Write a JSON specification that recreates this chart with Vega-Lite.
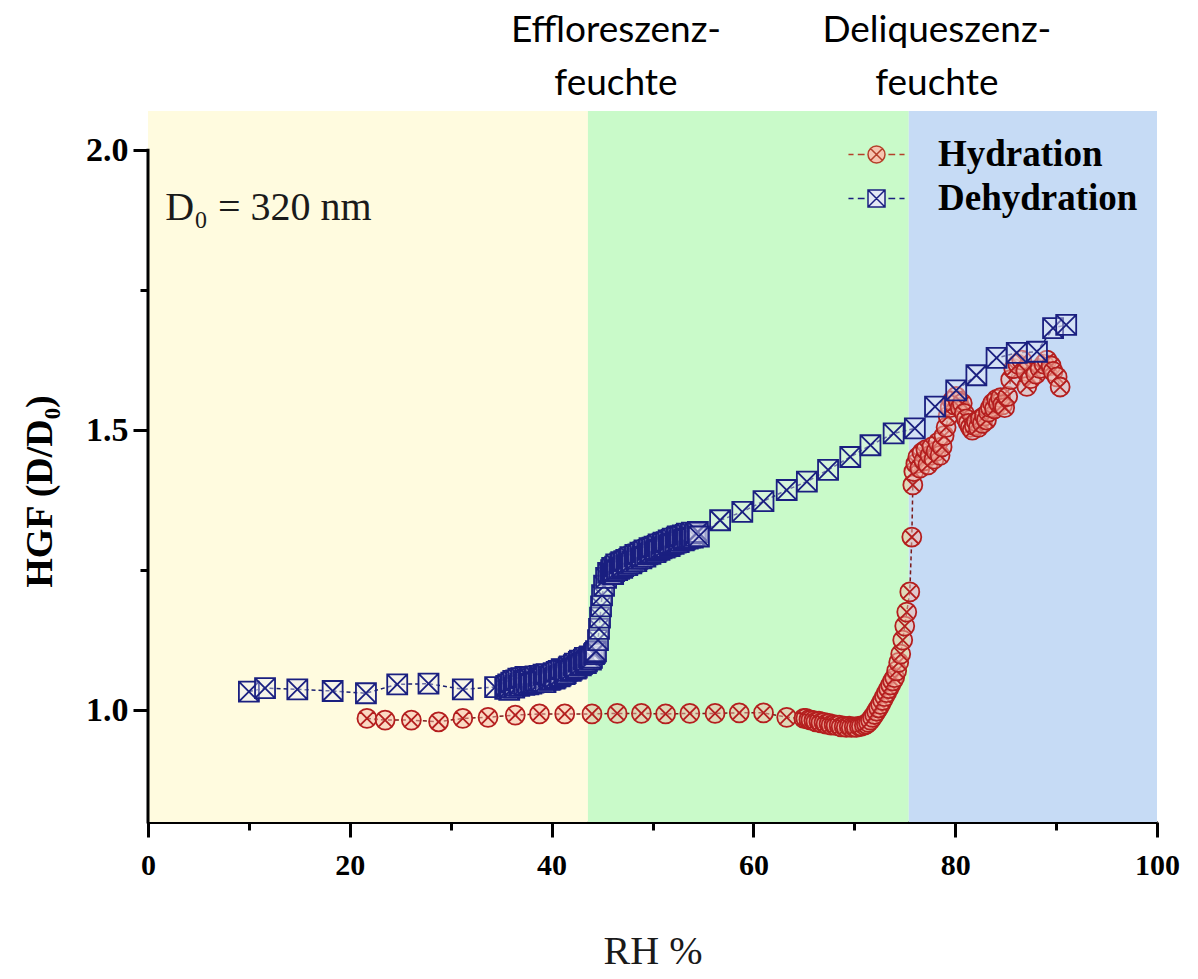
{
  "$schema": "https://vega.github.io/schema/vega-lite/v6.json",
  "width": 1009,
  "height": 711,
  "autosize": {"type": "none"},
  "padding": {"left": 148, "top": 111, "right": 41, "bottom": 157},
  "background": "white",
  "config": {
    "view": {"stroke": null},
    "font": "Liberation Serif",
    "axis": {"grid": false},
    "legend": {
      "orient": "none",
      "legendX": 710,
      "legendY": 25,
      "padding": 0,
      "labelFont": "Liberation Serif",
      "labelFontWeight": "bold",
      "labelFontSize": 37,
      "labelColor": "black",
      "labelOffset": 43,
      "labelLimit": 400,
      "symbolSize": 289,
      "symbolStrokeWidth": 1.5,
      "rowPadding": 6
    }
  },
  "resolve": {"axis": {"x": "independent", "y": "independent"}},
  "datasets": {
    "zones": [
      {"zone": "solid", "from": 0, "to": 43.6, "label": null},
      {"zone": "efflorescence", "from": 43.6, "to": 75.4, "label": ["Effloreszenz-", "feuchte"]},
      {"zone": "deliquescence", "from": 75.4, "to": 100, "label": ["Deliqueszenz-", "feuchte"]}
    ],
    "hgf": [
      {"series": "Hydration", "rh": 21.7, "hgf": 0.985},
      {"series": "Hydration", "rh": 23.5, "hgf": 0.982},
      {"series": "Hydration", "rh": 26.1, "hgf": 0.982},
      {"series": "Hydration", "rh": 28.8, "hgf": 0.979},
      {"series": "Hydration", "rh": 31.2, "hgf": 0.985},
      {"series": "Hydration", "rh": 33.7, "hgf": 0.987},
      {"series": "Hydration", "rh": 36.4, "hgf": 0.991},
      {"series": "Hydration", "rh": 38.8, "hgf": 0.993},
      {"series": "Hydration", "rh": 41.3, "hgf": 0.993},
      {"series": "Hydration", "rh": 44.0, "hgf": 0.993},
      {"series": "Hydration", "rh": 46.5, "hgf": 0.994},
      {"series": "Hydration", "rh": 48.9, "hgf": 0.994},
      {"series": "Hydration", "rh": 51.3, "hgf": 0.993},
      {"series": "Hydration", "rh": 53.7, "hgf": 0.994},
      {"series": "Hydration", "rh": 56.2, "hgf": 0.994},
      {"series": "Hydration", "rh": 58.6, "hgf": 0.995},
      {"series": "Hydration", "rh": 61.0, "hgf": 0.995},
      {"series": "Hydration", "rh": 63.3, "hgf": 0.987},
      {"series": "Hydration", "rh": 65.0, "hgf": 0.985},
      {"series": "Hydration", "rh": 65.2, "hgf": 0.985},
      {"series": "Hydration", "rh": 65.5, "hgf": 0.983},
      {"series": "Hydration", "rh": 65.7, "hgf": 0.982},
      {"series": "Hydration", "rh": 66.0, "hgf": 0.981},
      {"series": "Hydration", "rh": 66.2, "hgf": 0.979},
      {"series": "Hydration", "rh": 66.5, "hgf": 0.980},
      {"series": "Hydration", "rh": 66.7, "hgf": 0.977},
      {"series": "Hydration", "rh": 67.0, "hgf": 0.978},
      {"series": "Hydration", "rh": 67.2, "hgf": 0.975},
      {"series": "Hydration", "rh": 67.5, "hgf": 0.976},
      {"series": "Hydration", "rh": 67.7, "hgf": 0.973},
      {"series": "Hydration", "rh": 68.0, "hgf": 0.974},
      {"series": "Hydration", "rh": 68.2, "hgf": 0.972},
      {"series": "Hydration", "rh": 68.5, "hgf": 0.973},
      {"series": "Hydration", "rh": 68.7, "hgf": 0.970},
      {"series": "Hydration", "rh": 69.0, "hgf": 0.971},
      {"series": "Hydration", "rh": 69.2, "hgf": 0.969},
      {"series": "Hydration", "rh": 69.5, "hgf": 0.971},
      {"series": "Hydration", "rh": 69.7, "hgf": 0.969},
      {"series": "Hydration", "rh": 70.0, "hgf": 0.970},
      {"series": "Hydration", "rh": 70.2, "hgf": 0.969},
      {"series": "Hydration", "rh": 70.5, "hgf": 0.971},
      {"series": "Hydration", "rh": 70.7, "hgf": 0.971},
      {"series": "Hydration", "rh": 71.0, "hgf": 0.973},
      {"series": "Hydration", "rh": 71.2, "hgf": 0.975},
      {"series": "Hydration", "rh": 71.4, "hgf": 0.978},
      {"series": "Hydration", "rh": 71.6, "hgf": 0.982},
      {"series": "Hydration", "rh": 71.8, "hgf": 0.987},
      {"series": "Hydration", "rh": 72.0, "hgf": 0.992},
      {"series": "Hydration", "rh": 72.2, "hgf": 0.998},
      {"series": "Hydration", "rh": 72.4, "hgf": 1.004},
      {"series": "Hydration", "rh": 72.6, "hgf": 1.010},
      {"series": "Hydration", "rh": 72.8, "hgf": 1.017},
      {"series": "Hydration", "rh": 73.0, "hgf": 1.024},
      {"series": "Hydration", "rh": 73.2, "hgf": 1.031},
      {"series": "Hydration", "rh": 73.4, "hgf": 1.038},
      {"series": "Hydration", "rh": 73.6, "hgf": 1.045},
      {"series": "Hydration", "rh": 73.8, "hgf": 1.052},
      {"series": "Hydration", "rh": 74.0, "hgf": 1.058},
      {"series": "Hydration", "rh": 74.2, "hgf": 1.070},
      {"series": "Hydration", "rh": 74.4, "hgf": 1.085},
      {"series": "Hydration", "rh": 74.6, "hgf": 1.100},
      {"series": "Hydration", "rh": 74.8, "hgf": 1.125},
      {"series": "Hydration", "rh": 75.0, "hgf": 1.150},
      {"series": "Hydration", "rh": 75.2, "hgf": 1.175},
      {"series": "Hydration", "rh": 75.5, "hgf": 1.211},
      {"series": "Hydration", "rh": 75.7, "hgf": 1.309},
      {"series": "Hydration", "rh": 75.8, "hgf": 1.402},
      {"series": "Hydration", "rh": 75.9, "hgf": 1.426},
      {"series": "Hydration", "rh": 76.1, "hgf": 1.440},
      {"series": "Hydration", "rh": 76.3, "hgf": 1.452},
      {"series": "Hydration", "rh": 76.5, "hgf": 1.432},
      {"series": "Hydration", "rh": 76.7, "hgf": 1.460},
      {"series": "Hydration", "rh": 76.9, "hgf": 1.445},
      {"series": "Hydration", "rh": 77.1, "hgf": 1.465},
      {"series": "Hydration", "rh": 77.3, "hgf": 1.438},
      {"series": "Hydration", "rh": 77.5, "hgf": 1.455},
      {"series": "Hydration", "rh": 77.7, "hgf": 1.470},
      {"series": "Hydration", "rh": 77.9, "hgf": 1.448},
      {"series": "Hydration", "rh": 78.1, "hgf": 1.462},
      {"series": "Hydration", "rh": 78.3, "hgf": 1.478},
      {"series": "Hydration", "rh": 78.5, "hgf": 1.455},
      {"series": "Hydration", "rh": 78.7, "hgf": 1.470},
      {"series": "Hydration", "rh": 78.9, "hgf": 1.490},
      {"series": "Hydration", "rh": 79.1, "hgf": 1.505},
      {"series": "Hydration", "rh": 79.3, "hgf": 1.525},
      {"series": "Hydration", "rh": 79.5, "hgf": 1.540},
      {"series": "Hydration", "rh": 79.7, "hgf": 1.552},
      {"series": "Hydration", "rh": 79.9, "hgf": 1.545},
      {"series": "Hydration", "rh": 80.1, "hgf": 1.560},
      {"series": "Hydration", "rh": 80.3, "hgf": 1.552},
      {"series": "Hydration", "rh": 80.5, "hgf": 1.540},
      {"series": "Hydration", "rh": 80.7, "hgf": 1.548},
      {"series": "Hydration", "rh": 80.9, "hgf": 1.530},
      {"series": "Hydration", "rh": 81.1, "hgf": 1.520},
      {"series": "Hydration", "rh": 81.3, "hgf": 1.512},
      {"series": "Hydration", "rh": 81.5, "hgf": 1.505},
      {"series": "Hydration", "rh": 81.7, "hgf": 1.500},
      {"series": "Hydration", "rh": 81.9, "hgf": 1.508},
      {"series": "Hydration", "rh": 82.1, "hgf": 1.515},
      {"series": "Hydration", "rh": 82.3, "hgf": 1.505},
      {"series": "Hydration", "rh": 82.5, "hgf": 1.520},
      {"series": "Hydration", "rh": 82.7, "hgf": 1.512},
      {"series": "Hydration", "rh": 82.9, "hgf": 1.525},
      {"series": "Hydration", "rh": 83.1, "hgf": 1.518},
      {"series": "Hydration", "rh": 83.3, "hgf": 1.532},
      {"series": "Hydration", "rh": 83.5, "hgf": 1.540},
      {"series": "Hydration", "rh": 83.7, "hgf": 1.548},
      {"series": "Hydration", "rh": 83.9, "hgf": 1.538},
      {"series": "Hydration", "rh": 84.1, "hgf": 1.555},
      {"series": "Hydration", "rh": 84.3, "hgf": 1.548},
      {"series": "Hydration", "rh": 84.5, "hgf": 1.558},
      {"series": "Hydration", "rh": 84.7, "hgf": 1.545},
      {"series": "Hydration", "rh": 84.9, "hgf": 1.540},
      {"series": "Hydration", "rh": 85.2, "hgf": 1.560},
      {"series": "Hydration", "rh": 85.5, "hgf": 1.590},
      {"series": "Hydration", "rh": 85.8, "hgf": 1.610},
      {"series": "Hydration", "rh": 86.2, "hgf": 1.618},
      {"series": "Hydration", "rh": 86.6, "hgf": 1.625},
      {"series": "Hydration", "rh": 87.0, "hgf": 1.605},
      {"series": "Hydration", "rh": 87.1, "hgf": 1.578},
      {"series": "Hydration", "rh": 87.5, "hgf": 1.592},
      {"series": "Hydration", "rh": 88.0, "hgf": 1.600},
      {"series": "Hydration", "rh": 88.4, "hgf": 1.610},
      {"series": "Hydration", "rh": 88.8, "hgf": 1.618},
      {"series": "Hydration", "rh": 89.1, "hgf": 1.625},
      {"series": "Hydration", "rh": 89.5, "hgf": 1.615},
      {"series": "Hydration", "rh": 89.7, "hgf": 1.605},
      {"series": "Hydration", "rh": 90.1, "hgf": 1.595},
      {"series": "Hydration", "rh": 90.4, "hgf": 1.577},
      {"series": "Dehydration", "rh": 10.0, "hgf": 1.033},
      {"series": "Dehydration", "rh": 11.6, "hgf": 1.039},
      {"series": "Dehydration", "rh": 14.8, "hgf": 1.037},
      {"series": "Dehydration", "rh": 18.3, "hgf": 1.034},
      {"series": "Dehydration", "rh": 21.6, "hgf": 1.030},
      {"series": "Dehydration", "rh": 24.7, "hgf": 1.046},
      {"series": "Dehydration", "rh": 27.8, "hgf": 1.047},
      {"series": "Dehydration", "rh": 31.2, "hgf": 1.037},
      {"series": "Dehydration", "rh": 34.4, "hgf": 1.041},
      {"series": "Dehydration", "rh": 35.4, "hgf": 1.038},
      {"series": "Dehydration", "rh": 35.5, "hgf": 1.043},
      {"series": "Dehydration", "rh": 35.7, "hgf": 1.046},
      {"series": "Dehydration", "rh": 35.8, "hgf": 1.036},
      {"series": "Dehydration", "rh": 35.9, "hgf": 1.041},
      {"series": "Dehydration", "rh": 36.0, "hgf": 1.049},
      {"series": "Dehydration", "rh": 36.2, "hgf": 1.052},
      {"series": "Dehydration", "rh": 36.3, "hgf": 1.040},
      {"series": "Dehydration", "rh": 36.4, "hgf": 1.044},
      {"series": "Dehydration", "rh": 36.5, "hgf": 1.053},
      {"series": "Dehydration", "rh": 36.7, "hgf": 1.056},
      {"series": "Dehydration", "rh": 36.8, "hgf": 1.043},
      {"series": "Dehydration", "rh": 36.9, "hgf": 1.047},
      {"series": "Dehydration", "rh": 37.0, "hgf": 1.057},
      {"series": "Dehydration", "rh": 37.2, "hgf": 1.051},
      {"series": "Dehydration", "rh": 37.3, "hgf": 1.045},
      {"series": "Dehydration", "rh": 37.4, "hgf": 1.059},
      {"series": "Dehydration", "rh": 37.5, "hgf": 1.052},
      {"series": "Dehydration", "rh": 37.7, "hgf": 1.046},
      {"series": "Dehydration", "rh": 37.8, "hgf": 1.058},
      {"series": "Dehydration", "rh": 37.9, "hgf": 1.055},
      {"series": "Dehydration", "rh": 38.0, "hgf": 1.047},
      {"series": "Dehydration", "rh": 38.2, "hgf": 1.049},
      {"series": "Dehydration", "rh": 38.3, "hgf": 1.055},
      {"series": "Dehydration", "rh": 38.4, "hgf": 1.060},
      {"series": "Dehydration", "rh": 38.5, "hgf": 1.050},
      {"series": "Dehydration", "rh": 38.7, "hgf": 1.052},
      {"series": "Dehydration", "rh": 38.8, "hgf": 1.061},
      {"series": "Dehydration", "rh": 38.9, "hgf": 1.057},
      {"series": "Dehydration", "rh": 39.0, "hgf": 1.052},
      {"series": "Dehydration", "rh": 39.2, "hgf": 1.063},
      {"series": "Dehydration", "rh": 39.3, "hgf": 1.058},
      {"series": "Dehydration", "rh": 39.4, "hgf": 1.050},
      {"series": "Dehydration", "rh": 39.5, "hgf": 1.064},
      {"series": "Dehydration", "rh": 39.7, "hgf": 1.060},
      {"series": "Dehydration", "rh": 39.8, "hgf": 1.054},
      {"series": "Dehydration", "rh": 39.9, "hgf": 1.055},
      {"series": "Dehydration", "rh": 40.0, "hgf": 1.061},
      {"series": "Dehydration", "rh": 40.2, "hgf": 1.066},
      {"series": "Dehydration", "rh": 40.3, "hgf": 1.056},
      {"series": "Dehydration", "rh": 40.4, "hgf": 1.058},
      {"series": "Dehydration", "rh": 40.5, "hgf": 1.068},
      {"series": "Dehydration", "rh": 40.7, "hgf": 1.070},
      {"series": "Dehydration", "rh": 40.8, "hgf": 1.060},
      {"series": "Dehydration", "rh": 40.9, "hgf": 1.062},
      {"series": "Dehydration", "rh": 41.0, "hgf": 1.073},
      {"series": "Dehydration", "rh": 41.2, "hgf": 1.072},
      {"series": "Dehydration", "rh": 41.3, "hgf": 1.064},
      {"series": "Dehydration", "rh": 41.4, "hgf": 1.066},
      {"series": "Dehydration", "rh": 41.5, "hgf": 1.070},
      {"series": "Dehydration", "rh": 41.7, "hgf": 1.076},
      {"series": "Dehydration", "rh": 41.8, "hgf": 1.078},
      {"series": "Dehydration", "rh": 41.9, "hgf": 1.070},
      {"series": "Dehydration", "rh": 42.0, "hgf": 1.072},
      {"series": "Dehydration", "rh": 42.2, "hgf": 1.080},
      {"series": "Dehydration", "rh": 42.3, "hgf": 1.083},
      {"series": "Dehydration", "rh": 42.4, "hgf": 1.074},
      {"series": "Dehydration", "rh": 42.5, "hgf": 1.076},
      {"series": "Dehydration", "rh": 42.7, "hgf": 1.086},
      {"series": "Dehydration", "rh": 42.8, "hgf": 1.088},
      {"series": "Dehydration", "rh": 42.9, "hgf": 1.080},
      {"series": "Dehydration", "rh": 43.0, "hgf": 1.082},
      {"series": "Dehydration", "rh": 43.2, "hgf": 1.090},
      {"series": "Dehydration", "rh": 43.3, "hgf": 1.093},
      {"series": "Dehydration", "rh": 43.4, "hgf": 1.084},
      {"series": "Dehydration", "rh": 43.5, "hgf": 1.087},
      {"series": "Dehydration", "rh": 43.7, "hgf": 1.094},
      {"series": "Dehydration", "rh": 43.8, "hgf": 1.096},
      {"series": "Dehydration", "rh": 43.9, "hgf": 1.090},
      {"series": "Dehydration", "rh": 44.0, "hgf": 1.093},
      {"series": "Dehydration", "rh": 44.2, "hgf": 1.100},
      {"series": "Dehydration", "rh": 44.3, "hgf": 1.102},
      {"series": "Dehydration", "rh": 44.4, "hgf": 1.105},
      {"series": "Dehydration", "rh": 44.6, "hgf": 1.125},
      {"series": "Dehydration", "rh": 44.7, "hgf": 1.145},
      {"series": "Dehydration", "rh": 44.8, "hgf": 1.165},
      {"series": "Dehydration", "rh": 44.9, "hgf": 1.185},
      {"series": "Dehydration", "rh": 45.0, "hgf": 1.205},
      {"series": "Dehydration", "rh": 45.2, "hgf": 1.222},
      {"series": "Dehydration", "rh": 45.4, "hgf": 1.236},
      {"series": "Dehydration", "rh": 45.6, "hgf": 1.245},
      {"series": "Dehydration", "rh": 45.8, "hgf": 1.244},
      {"series": "Dehydration", "rh": 45.9, "hgf": 1.250},
      {"series": "Dehydration", "rh": 46.0, "hgf": 1.254},
      {"series": "Dehydration", "rh": 46.1, "hgf": 1.243},
      {"series": "Dehydration", "rh": 46.2, "hgf": 1.248},
      {"series": "Dehydration", "rh": 46.3, "hgf": 1.256},
      {"series": "Dehydration", "rh": 46.4, "hgf": 1.260},
      {"series": "Dehydration", "rh": 46.5, "hgf": 1.250},
      {"series": "Dehydration", "rh": 46.7, "hgf": 1.252},
      {"series": "Dehydration", "rh": 46.8, "hgf": 1.262},
      {"series": "Dehydration", "rh": 46.9, "hgf": 1.264},
      {"series": "Dehydration", "rh": 47.0, "hgf": 1.254},
      {"series": "Dehydration", "rh": 47.1, "hgf": 1.257},
      {"series": "Dehydration", "rh": 47.2, "hgf": 1.266},
      {"series": "Dehydration", "rh": 47.4, "hgf": 1.268},
      {"series": "Dehydration", "rh": 47.5, "hgf": 1.259},
      {"series": "Dehydration", "rh": 47.6, "hgf": 1.262},
      {"series": "Dehydration", "rh": 47.7, "hgf": 1.270},
      {"series": "Dehydration", "rh": 47.8, "hgf": 1.273},
      {"series": "Dehydration", "rh": 47.9, "hgf": 1.262},
      {"series": "Dehydration", "rh": 48.0, "hgf": 1.265},
      {"series": "Dehydration", "rh": 48.2, "hgf": 1.274},
      {"series": "Dehydration", "rh": 48.3, "hgf": 1.277},
      {"series": "Dehydration", "rh": 48.4, "hgf": 1.266},
      {"series": "Dehydration", "rh": 48.5, "hgf": 1.270},
      {"series": "Dehydration", "rh": 48.6, "hgf": 1.278},
      {"series": "Dehydration", "rh": 48.8, "hgf": 1.281},
      {"series": "Dehydration", "rh": 48.9, "hgf": 1.271},
      {"series": "Dehydration", "rh": 49.0, "hgf": 1.274},
      {"series": "Dehydration", "rh": 49.1, "hgf": 1.282},
      {"series": "Dehydration", "rh": 49.2, "hgf": 1.285},
      {"series": "Dehydration", "rh": 49.3, "hgf": 1.274},
      {"series": "Dehydration", "rh": 49.5, "hgf": 1.278},
      {"series": "Dehydration", "rh": 49.6, "hgf": 1.286},
      {"series": "Dehydration", "rh": 49.7, "hgf": 1.289},
      {"series": "Dehydration", "rh": 49.8, "hgf": 1.279},
      {"series": "Dehydration", "rh": 49.9, "hgf": 1.282},
      {"series": "Dehydration", "rh": 50.0, "hgf": 1.290},
      {"series": "Dehydration", "rh": 50.2, "hgf": 1.292},
      {"series": "Dehydration", "rh": 50.3, "hgf": 1.282},
      {"series": "Dehydration", "rh": 50.4, "hgf": 1.285},
      {"series": "Dehydration", "rh": 50.5, "hgf": 1.293},
      {"series": "Dehydration", "rh": 50.6, "hgf": 1.296},
      {"series": "Dehydration", "rh": 50.7, "hgf": 1.286},
      {"series": "Dehydration", "rh": 50.9, "hgf": 1.289},
      {"series": "Dehydration", "rh": 51.0, "hgf": 1.297},
      {"series": "Dehydration", "rh": 51.1, "hgf": 1.299},
      {"series": "Dehydration", "rh": 51.2, "hgf": 1.290},
      {"series": "Dehydration", "rh": 51.3, "hgf": 1.292},
      {"series": "Dehydration", "rh": 51.4, "hgf": 1.300},
      {"series": "Dehydration", "rh": 51.6, "hgf": 1.303},
      {"series": "Dehydration", "rh": 51.7, "hgf": 1.293},
      {"series": "Dehydration", "rh": 51.8, "hgf": 1.296},
      {"series": "Dehydration", "rh": 51.9, "hgf": 1.304},
      {"series": "Dehydration", "rh": 52.0, "hgf": 1.306},
      {"series": "Dehydration", "rh": 52.1, "hgf": 1.297},
      {"series": "Dehydration", "rh": 52.3, "hgf": 1.299},
      {"series": "Dehydration", "rh": 52.4, "hgf": 1.308},
      {"series": "Dehydration", "rh": 52.5, "hgf": 1.310},
      {"series": "Dehydration", "rh": 52.6, "hgf": 1.300},
      {"series": "Dehydration", "rh": 52.7, "hgf": 1.303},
      {"series": "Dehydration", "rh": 52.8, "hgf": 1.310},
      {"series": "Dehydration", "rh": 53.0, "hgf": 1.312},
      {"series": "Dehydration", "rh": 53.1, "hgf": 1.303},
      {"series": "Dehydration", "rh": 53.2, "hgf": 1.305},
      {"series": "Dehydration", "rh": 53.3, "hgf": 1.313},
      {"series": "Dehydration", "rh": 53.4, "hgf": 1.315},
      {"series": "Dehydration", "rh": 53.5, "hgf": 1.306},
      {"series": "Dehydration", "rh": 53.7, "hgf": 1.308},
      {"series": "Dehydration", "rh": 53.8, "hgf": 1.314},
      {"series": "Dehydration", "rh": 53.9, "hgf": 1.317},
      {"series": "Dehydration", "rh": 54.0, "hgf": 1.308},
      {"series": "Dehydration", "rh": 54.2, "hgf": 1.311},
      {"series": "Dehydration", "rh": 54.3, "hgf": 1.316},
      {"series": "Dehydration", "rh": 54.5, "hgf": 1.318},
      {"series": "Dehydration", "rh": 54.6, "hgf": 1.310},
      {"series": "Dehydration", "rh": 56.7, "hgf": 1.339},
      {"series": "Dehydration", "rh": 58.9, "hgf": 1.354},
      {"series": "Dehydration", "rh": 61.0, "hgf": 1.373},
      {"series": "Dehydration", "rh": 63.3, "hgf": 1.393},
      {"series": "Dehydration", "rh": 65.3, "hgf": 1.408},
      {"series": "Dehydration", "rh": 67.4, "hgf": 1.429},
      {"series": "Dehydration", "rh": 69.6, "hgf": 1.452},
      {"series": "Dehydration", "rh": 71.6, "hgf": 1.473},
      {"series": "Dehydration", "rh": 73.9, "hgf": 1.494},
      {"series": "Dehydration", "rh": 76.0, "hgf": 1.503},
      {"series": "Dehydration", "rh": 78.0, "hgf": 1.542},
      {"series": "Dehydration", "rh": 80.1, "hgf": 1.571},
      {"series": "Dehydration", "rh": 82.1, "hgf": 1.598},
      {"series": "Dehydration", "rh": 84.1, "hgf": 1.629},
      {"series": "Dehydration", "rh": 86.1, "hgf": 1.638},
      {"series": "Dehydration", "rh": 88.1, "hgf": 1.640},
      {"series": "Dehydration", "rh": 89.7, "hgf": 1.682},
      {"series": "Dehydration", "rh": 91.0, "hgf": 1.688}
    ]
  },
  "layer": [
    {
      "data": {"name": "zones"},
      "mark": {"type": "rect"},
      "encoding": {
        "x": {"field": "from", "type": "quantitative", "scale": {"domain": [0, 100], "nice": false, "zero": false}, "axis": null},
        "x2": {"field": "to"},
        "color": {
          "field": "zone",
          "type": "nominal",
          "scale": {"domain": ["solid", "efflorescence", "deliquescence"], "range": ["#fffbdf", "#c9fac9", "#c6dbf5"]},
          "legend": null
        }
      }
    },
    {
      "data": {"name": "zones"},
      "transform": [{"filter": "datum.label != null"}],
      "mark": {"type": "text", "font": "Lato", "fontSize": 37, "align": "center", "baseline": "alphabetic", "dx": 28, "lineHeight": 53, "color": "black"},
      "encoding": {
        "x": {"field": "from", "type": "quantitative", "scale": {"domain": [0, 100], "nice": false, "zero": false}, "axis": null},
        "y": {"datum": 2.193, "type": "quantitative", "scale": {"domain": [0.8, 2.07], "nice": false, "zero": false}, "axis": null},
        "text": {"field": "label"}
      }
    },
    {
      "data": {"values": [{"note": "D₀ = 320 nm"}]},
      "mark": {"type": "text", "fontSize": 40, "align": "left", "baseline": "alphabetic", "color": "#1a1a1a", "font": "Liberation Serif"},
      "encoding": {
        "x": {"datum": 1.7, "type": "quantitative", "scale": {"domain": [0, 100], "nice": false, "zero": false}, "axis": null},
        "y": {"datum": 1.875, "type": "quantitative", "scale": {"domain": [0.8, 2.07], "nice": false, "zero": false}, "axis": null},
        "text": {"field": "note"}
      }
    },
    {
      "data": {"values": [{}]},
      "mark": {"type": "rule", "strokeWidth": 3, "color": "black", "strokeCap": "square"},
      "encoding": {
        "x": {"datum": 0, "type": "quantitative", "scale": {"domain": [0, 100], "nice": false, "zero": false}, "axis": null},
        "y": {"datum": 0.8, "type": "quantitative", "scale": {"domain": [0.8, 2.07], "nice": false, "zero": false}, "axis": null},
        "y2": {"datum": 2.0}
      }
    },
    {
      "data": {"name": "hgf"},
      "mark": {"type": "line", "strokeDash": [4, 3], "strokeWidth": 1.5},
      "encoding": {
        "x": {"field": "rh", "type": "quantitative", "scale": {"domain": [0, 100], "nice": false, "zero": false}, "axis": null},
        "y": {"field": "hgf", "type": "quantitative", "scale": {"domain": [0.8, 2.07], "nice": false, "zero": false}, "axis": null},
        "detail": {"field": "series", "type": "nominal"},
        "stroke": {"condition": {"test": "datum.series === 'Hydration'", "value": "#7a1a1a"}, "value": "#1a1f70"}
      }
    },
    {
      "data": {"name": "hgf"},
      "mark": {"type": "point", "filled": true, "strokeWidth": 1.8, "opacity": 1},
      "encoding": {
        "x": {
          "field": "rh",
          "type": "quantitative",
          "scale": {"domain": [0, 100], "nice": false, "zero": false},
          "axis": {
            "orient": "bottom",
            "title": "RH %",
            "values": [0, 20, 40, 60, 80, 100],
            "tickSize": 15,
            "tickWidth": 3,
            "tickColor": "black",
            "domainWidth": 3,
            "domainColor": "black",
            "labelFont": "Liberation Serif",
            "labelFontWeight": "bold",
            "labelFontSize": 30,
            "labelColor": "black",
            "labelPadding": 13,
            "labelFlush": false,
            "titleFont": "Liberation Serif",
            "titleFontWeight": "normal",
            "titleFontSize": 40,
            "titleColor": "#1a1a1a",
            "titlePadding": 51
          }
        },
        "y": {
          "field": "hgf",
          "type": "quantitative",
          "scale": {"domain": [0.8, 2.07], "nice": false, "zero": false},
          "axis": {
            "orient": "left",
            "title": "HGF (D/D₀)",
            "values": [1, 1.5, 2],
            "format": ".1f",
            "domain": false,
            "tickSize": 15,
            "tickWidth": 3,
            "tickColor": "black",
            "labelFont": "Liberation Serif",
            "labelFontWeight": "bold",
            "labelFontSize": 34,
            "labelColor": "black",
            "labelPadding": 5,
            "labelFlush": false,
            "titleFont": "Liberation Serif",
            "titleFontWeight": "bold",
            "titleFontSize": 38,
            "titleColor": "black",
            "titlePadding": 26,
            "titleY": 380
          }
        },
        "shape": {
          "condition": {
            "test": "datum.series === 'Hydration'",
            "value": "M1,0A1,1,0,1,1,-1,0A1,1,0,1,1,1,0Z M-0.707,-0.707L0.707,0.707M-0.707,0.707L0.707,-0.707"
          },
          "value": "M-1,-1H1V1H-1Z M-1,-1L1,1M-1,1L1,-1"
        },
        "size": {"condition": {"test": "datum.series === 'Hydration'", "value": 361}, "value": 400},
        "stroke": {"condition": {"test": "datum.series === 'Hydration'", "value": "#b41e1e"}, "value": "#1a1f80"},
        "fill": {"condition": {"test": "datum.series === 'Hydration'", "value": "#f6b8a8"}, "value": "#e8ecf5"},
        "fillOpacity": {"condition": {"test": "datum.series === 'Hydration'", "value": 0.5}, "value": 0.4}
      }
    },
    {
      "description": "Key entries (dashed connector either side of the marker) and the minor axis ticks.",
      "data": {"name": "hgf"},
      "transform": [{"filter": "false"}],
      "mark": {"type": "point", "filled": true, "fillOpacity": 0.8, "strokeWidth": 1.5},
      "encoding": {
        "x": {
          "field": "rh",
          "type": "quantitative",
          "scale": {"domain": [0, 100], "nice": false, "zero": false},
          "axis": {
            "orient": "bottom",
            "title": null,
            "values": [10, 30, 50, 70, 90],
            "labels": false,
            "domain": false,
            "tickSize": 8,
            "tickWidth": 3,
            "tickColor": "black"
          }
        },
        "y": {
          "field": "hgf",
          "type": "quantitative",
          "scale": {"domain": [0.8, 2.07], "nice": false, "zero": false},
          "axis": {
            "orient": "left",
            "title": null,
            "values": [1.25, 1.75],
            "labels": false,
            "domain": false,
            "tickSize": 8,
            "tickWidth": 3,
            "tickColor": "black"
          }
        },
        "shape": {
          "field": "series",
          "type": "nominal",
          "scale": {
            "domain": ["Hydration", "Dehydration"],
            "range": [
              "M-3.3,0H-2.7M-2.2,0H-1.4M1.4,0H2.2M2.7,0H3.3M1,0A1,1,0,1,1,-1,0A1,1,0,1,1,1,0ZM-0.707,-0.707L0.707,0.707M-0.707,0.707L0.707,-0.707",
              "M-3.3,0H-2.7M-2.2,0H-1.4M1.4,0H2.2M2.7,0H3.3M-1,-1H1V1H-1ZM-1,-1L1,1M-1,1L1,-1"
            ]
          },
          "legend": {"title": null}
        },
        "stroke": {
          "field": "series",
          "type": "nominal",
          "scale": {"domain": ["Hydration", "Dehydration"], "range": ["#b5402a", "#1a1f80"]},
          "legend": {"title": null}
        },
        "fill": {
          "field": "series",
          "type": "nominal",
          "scale": {"domain": ["Hydration", "Dehydration"], "range": ["#f6c4b0", "#e4e8f4"]},
          "legend": {"title": null}
        }
      }
    }
  ]
}
